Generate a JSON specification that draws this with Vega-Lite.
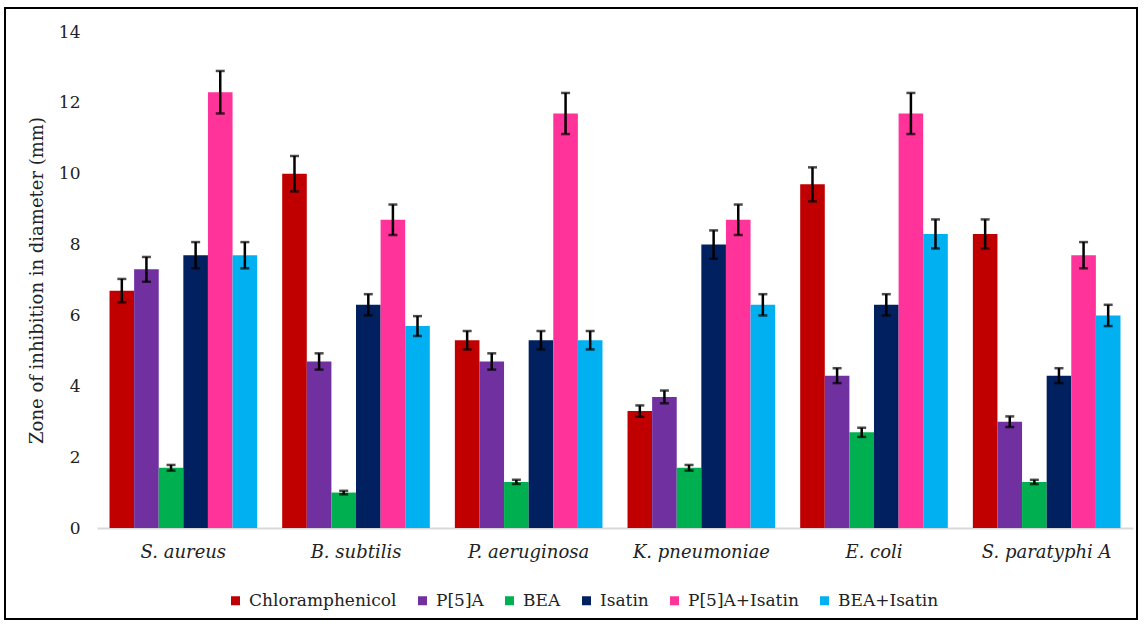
{
  "$schema": "https://vega.github.io/schema/vega-lite/v6.json",
  "width": 1132,
  "height": 611,
  "autosize": {"type": "none"},
  "padding": {"left": 5, "top": 8, "right": 7, "bottom": 7},
  "background": "white",
  "config": {
    "font": "DejaVu Serif",
    "axis": {"labelFont": "DejaVu Serif", "titleFont": "DejaVu Serif"},
    "legend": {"labelFont": "DejaVu Serif"},
    "view": {"stroke": "#000000", "strokeWidth": 2}
  },
  "data": {
    "values": [
      {"org": "S. aureus", "agent": "Chloramphenicol", "v": 6.7, "lo": 6.37, "hi": 7.03},
      {"org": "S. aureus", "agent": "P[5]A", "v": 7.3, "lo": 6.95, "hi": 7.65},
      {"org": "S. aureus", "agent": "BEA", "v": 1.7, "lo": 1.62, "hi": 1.78},
      {"org": "S. aureus", "agent": "Isatin", "v": 7.7, "lo": 7.33, "hi": 8.07},
      {"org": "S. aureus", "agent": "P[5]A+Isatin", "v": 12.3, "lo": 11.7, "hi": 12.9},
      {"org": "S. aureus", "agent": "BEA+Isatin", "v": 7.7, "lo": 7.33, "hi": 8.07},
      {"org": "B. subtilis", "agent": "Chloramphenicol", "v": 10.0, "lo": 9.5, "hi": 10.5},
      {"org": "B. subtilis", "agent": "P[5]A", "v": 4.7, "lo": 4.47, "hi": 4.93},
      {"org": "B. subtilis", "agent": "BEA", "v": 1.0, "lo": 0.95, "hi": 1.05},
      {"org": "B. subtilis", "agent": "Isatin", "v": 6.3, "lo": 6.0, "hi": 6.6},
      {"org": "B. subtilis", "agent": "P[5]A+Isatin", "v": 8.7, "lo": 8.27, "hi": 9.13},
      {"org": "B. subtilis", "agent": "BEA+Isatin", "v": 5.7, "lo": 5.42, "hi": 5.98},
      {"org": "P. aeruginosa", "agent": "Chloramphenicol", "v": 5.3, "lo": 5.04, "hi": 5.56},
      {"org": "P. aeruginosa", "agent": "P[5]A", "v": 4.7, "lo": 4.47, "hi": 4.93},
      {"org": "P. aeruginosa", "agent": "BEA", "v": 1.3, "lo": 1.24, "hi": 1.36},
      {"org": "P. aeruginosa", "agent": "Isatin", "v": 5.3, "lo": 5.04, "hi": 5.56},
      {"org": "P. aeruginosa", "agent": "P[5]A+Isatin", "v": 11.7, "lo": 11.12, "hi": 12.28},
      {"org": "P. aeruginosa", "agent": "BEA+Isatin", "v": 5.3, "lo": 5.04, "hi": 5.56},
      {"org": "K. pneumoniae", "agent": "Chloramphenicol", "v": 3.3, "lo": 3.14, "hi": 3.46},
      {"org": "K. pneumoniae", "agent": "P[5]A", "v": 3.7, "lo": 3.52, "hi": 3.88},
      {"org": "K. pneumoniae", "agent": "BEA", "v": 1.7, "lo": 1.62, "hi": 1.78},
      {"org": "K. pneumoniae", "agent": "Isatin", "v": 8.0, "lo": 7.6, "hi": 8.4},
      {"org": "K. pneumoniae", "agent": "P[5]A+Isatin", "v": 8.7, "lo": 8.27, "hi": 9.13},
      {"org": "K. pneumoniae", "agent": "BEA+Isatin", "v": 6.3, "lo": 6.0, "hi": 6.6},
      {"org": "E. coli", "agent": "Chloramphenicol", "v": 9.7, "lo": 9.22, "hi": 10.18},
      {"org": "E. coli", "agent": "P[5]A", "v": 4.3, "lo": 4.09, "hi": 4.51},
      {"org": "E. coli", "agent": "BEA", "v": 2.7, "lo": 2.57, "hi": 2.83},
      {"org": "E. coli", "agent": "Isatin", "v": 6.3, "lo": 6.0, "hi": 6.6},
      {"org": "E. coli", "agent": "P[5]A+Isatin", "v": 11.7, "lo": 11.12, "hi": 12.28},
      {"org": "E. coli", "agent": "BEA+Isatin", "v": 8.3, "lo": 7.89, "hi": 8.71},
      {"org": "S. paratyphi A", "agent": "Chloramphenicol", "v": 8.3, "lo": 7.89, "hi": 8.71},
      {"org": "S. paratyphi A", "agent": "P[5]A", "v": 3.0, "lo": 2.85, "hi": 3.15},
      {"org": "S. paratyphi A", "agent": "BEA", "v": 1.3, "lo": 1.24, "hi": 1.36},
      {"org": "S. paratyphi A", "agent": "Isatin", "v": 4.3, "lo": 4.09, "hi": 4.51},
      {"org": "S. paratyphi A", "agent": "P[5]A+Isatin", "v": 7.7, "lo": 7.33, "hi": 8.07},
      {"org": "S. paratyphi A", "agent": "BEA+Isatin", "v": 6.0, "lo": 5.7, "hi": 6.3}
    ]
  },
  "encoding": {
    "x": {
      "field": "org", "type": "nominal",
      "sort": ["S. aureus", "B. subtilis", "P. aeruginosa", "K. pneumoniae", "E. coli", "S. paratyphi A"],
      "scale": {"range": [92, 1128], "paddingInner": 0.145, "paddingOuter": 0.0725},
      "axis": {
        "title": null, "offset": -91, "labelAngle": 0, "ticks": false,
        "domainColor": "#D9D9D9", "domainWidth": 2,
        "labelFontStyle": "italic", "labelFontSize": 18,
        "labelColor": "#222222", "labelPadding": 15
      }
    },
    "xOffset": {
      "field": "agent", "type": "nominal",
      "sort": ["Chloramphenicol", "P[5]A", "BEA", "Isatin", "P[5]A+Isatin", "BEA+Isatin"],
      "scale": {"paddingInner": 0, "paddingOuter": 0}
    }
  },
  "layer": [
    {
      "mark": {"type": "bar"},
      "encoding": {
        "y": {
          "field": "v", "type": "quantitative",
          "scale": {"domain": [0, 14], "range": [520, 24], "nice": false},
          "axis": {
            "title": "Zone of inhibition in diameter (mm)",
            "offset": -83, "domain": false, "ticks": false, "grid": false,
            "values": [0, 2, 4, 6, 8, 10, 12, 14],
            "labelFontSize": 17, "labelColor": "#222222", "labelPadding": 8,
            "titleFontSize": 18, "titleFontWeight": "normal", "titleColor": "#222222",
            "titlePadding": 12
          }
        },
        "color": {
          "field": "agent", "type": "nominal",
          "scale": {
            "domain": ["Chloramphenicol", "P[5]A", "BEA", "Isatin", "P[5]A+Isatin", "BEA+Isatin"],
            "range": ["#C00000", "#7030A0", "#00B050", "#002060", "#FF3399", "#00B0F0"]
          },
          "legend": {
            "title": null, "orient": "none", "direction": "horizontal",
            "legendX": 222, "legendY": 584,
            "symbolType": "square", "symbolSize": 81, "symbolStrokeWidth": 0,
            "labelFontSize": 17, "labelColor": "#222222", "labelOffset": 5,
            "columnPadding": 17
          }
        }
      }
    },
    {
      "mark": {"type": "rule", "color": "black", "strokeWidth": 2.5},
      "encoding": {
        "y": {"field": "lo", "type": "quantitative"},
        "y2": {"field": "hi"}
      }
    },
    {
      "mark": {"type": "tick", "color": "black", "thickness": 2.5, "size": 9, "orient": "horizontal"},
      "encoding": {"y": {"field": "lo", "type": "quantitative"}}
    },
    {
      "mark": {"type": "tick", "color": "black", "thickness": 2.5, "size": 9, "orient": "horizontal"},
      "encoding": {"y": {"field": "hi", "type": "quantitative"}}
    }
  ]
}
